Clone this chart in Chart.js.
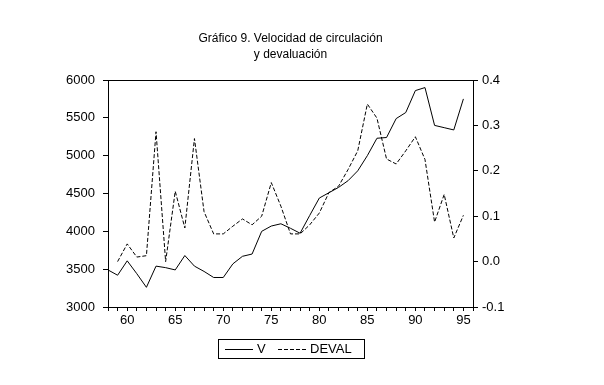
<!DOCTYPE html>
<html>
<head>
<meta charset="utf-8">
<style>
  html, body { margin: 0; padding: 0; background: #fff; }
</style>
<script src="https://cdn.jsdelivr.net/npm/chart.js@4/dist/chart.umd.min.js"></script>
</head>
<body>
<canvas id="chart-vel" width="604" height="385"></canvas>
<script>
// Data
const years = [58, 59, 60, 61, 62, 63, 64, 65, 66, 67, 68, 69, 70, 71, 72, 73, 74, 75, 76,
	77, 78, 79, 80, 81, 82, 83, 84, 85, 86, 87, 88, 89, 90, 91, 92, 93, 94, 95];
const vValues = [3490, 3420, 3610, 3440, 3260, 3540, 3520, 3490, 3680, 3540, 3470, 3390, 3390,
	3570, 3670, 3700, 4000, 4070, 4100, 4040, 3975, 4210, 4440, 4510, 4580, 4670, 4800, 5000,
	5230, 5240, 5490, 5570, 5860, 5900, 5400, 5370, 5340, 5750];
const devalValues = [null, 0.0, 0.039, 0.01, 0.013, 0.286, 0.0, 0.155, 0.074, 0.271, 0.11, 0.061,
	0.061, 0.078, 0.094, 0.081, 0.1, 0.174, 0.122, 0.061, 0.061, 0.081, 0.107, 0.152, 0.166,
	0.203, 0.244, 0.347, 0.316, 0.226, 0.215, 0.244, 0.275, 0.225, 0.087, 0.148, 0.052, 0.102];
const titleLines = ['Gráfico 9. Velocidad de circulación', 'y devaluación'];
const seriesNames = ['V', 'DEVAL'];

const FONT = '"Liberation Sans", Arial, sans-serif';

// Title, frame and boxed legend like the original
const extras = {
	id: 'extras',
	afterDraw(chart) {
		const ctx = chart.ctx;
		const a = chart.chartArea;
		const cx = (a.left + a.right) / 2;
		ctx.save();
		ctx.fillStyle = '#000';
		ctx.textAlign = 'center';
		ctx.textBaseline = 'middle';
		ctx.font = '12px ' + FONT;
		ctx.fillText(titleLines[0], cx, 39);
		ctx.fillText(titleLines[1], cx, 55);

		ctx.strokeStyle = '#000';
		ctx.lineWidth = 1;
		ctx.strokeRect(Math.round(a.left) + 0.5, Math.round(a.top) + 0.5,
			Math.round(a.right - a.left), Math.round(a.bottom - a.top));

		// legend
		ctx.strokeRect(218.5, 339.5, 146, 19);
		ctx.font = '13px ' + FONT;
		ctx.textAlign = 'left';
		ctx.beginPath();
		ctx.moveTo(225, 349.5);
		ctx.lineTo(253, 349.5);
		ctx.stroke();
		ctx.fillText(seriesNames[0], 257, 349);
		ctx.setLineDash([4, 2]);
		ctx.beginPath();
		ctx.moveTo(278, 349.5);
		ctx.lineTo(306, 349.5);
		ctx.stroke();
		ctx.setLineDash([]);
		ctx.fillText(seriesNames[1], 310, 349);
		ctx.restore();
	},
};

!(function () {
	const ctx = document.getElementById('chart-vel');

	new Chart(ctx, {
		type: 'line',
		data: {
			datasets: [
				{
					label: seriesNames[0],
					data: years.map((y, i) => ({ x: y, y: vValues[i] })),
					yAxisID: 'y',
					borderColor: '#000',
					borderWidth: 1,
					pointRadius: 0,
					tension: 0,
				},
				{
					label: seriesNames[1],
					data: years.map((y, i) => ({ x: y, y: devalValues[i] })),
					yAxisID: 'y1',
					borderColor: '#000',
					borderWidth: 1,
					borderDash: [4, 2],
					pointRadius: 0,
					tension: 0,
				},
			],
		},
		options: {
			responsive: false,
			animation: false,
			layout: { padding: { top: 80, left: 0, right: 0, bottom: 0 } },
			scales: {
				x: {
					type: 'linear',
					min: 58,
					max: 96,
					afterFit: (s) => { s.height = 78; },
					border: { display: true, color: '#000' },
					grid: { drawOnChartArea: false, tickLength: 4, color: '#000' },
					ticks: {
						stepSize: 1,
						autoSkip: false,
						maxRotation: 0,
						padding: 2,
						color: '#000',
						font: { family: FONT, size: 13 },
						callback: (v) => (v % 5 === 0 && v < 96 ? String(v) : ''),
					},
				},
				y: {
					position: 'left',
					min: 3000,
					max: 6000,
					afterFit: (s) => { s.width = 108; },
					border: { display: true, color: '#000' },
					grid: { drawOnChartArea: false, tickLength: 5, color: '#000' },
					ticks: {
						stepSize: 500,
						padding: 8,
						color: '#000',
						font: { family: FONT, size: 13 },
						callback: (v) => String(v),
					},
				},
				y1: {
					position: 'right',
					min: -0.1,
					max: 0.4,
					afterFit: (s) => { s.width = 131; },
					border: { display: true, color: '#000' },
					grid: { drawOnChartArea: false, tickLength: 5, color: '#000' },
					ticks: {
						stepSize: 0.1,
						padding: 4,
						color: '#000',
						font: { family: FONT, size: 13 },
						callback: (v) => Number(v).toFixed(1),
					},
				},
			},
			plugins: {
				legend: { display: false },
				title: { display: false },
				tooltip: { enabled: false },
			},
		},
		plugins: [extras],
	});
})();
</script>
</body>
</html>
